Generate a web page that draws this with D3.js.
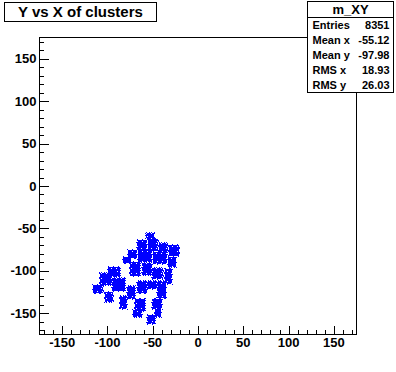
<!DOCTYPE html>
<html><head><meta charset="utf-8">
<script src="https://cdn.jsdelivr.net/npm/d3@7"></script>
<style>
body{margin:0;background:#fff}
svg{display:block}
text{font-family:"Liberation Sans",Arial,Helvetica,sans-serif;font-weight:bold;fill:#000}
</style>
</head><body>
<svg id="c" width="396" height="372"></svg>
<script>
// ---- data ----
const title = "Y vs X of clusters";
const histName = "m_XY";
const statLabels = ["Entries", "Mean x", "Mean y", "RMS x", "RMS y"];
const statValues = ["8351", "-55.12", "-97.98", "18.93", "26.03"];
const xDomain = [-175, 175];
const yDomain = [-175, 175];
const xTickValues = [-150, -100, -50, 0, 50, 100, 150];
const yTickValues = [-150, -100, -50, 0, 50, 100, 150];
// cluster occupancy regions (data units): x from/to, y from/to
const blobX0 = [-57.4,-67.4,-55.2,-43.1,-32.0,-77.3,-66.3,-49.7,-33.1,-82.8,-75.1,-61.8,-50.8,-36.4,-99.4,-108.2,-115.9,-95.0,-102.7,-78.4,-67.4,-56.3,-45.3,-86.1,-69.6,-50.8,-71.8,-56.3,-47.5];
const blobX1 = [-48.6,-56.3,-44.2,-33.1,-21.0,-67.4,-50.8,-34.2,-24.2,-74.0,-64.1,-50.8,-38.7,-28.7,-86.1,-95.0,-104.9,-80.6,-93.9,-69.6,-56.3,-45.3,-35.3,-78.4,-58.5,-39.8,-61.8,-47.5,-40.9];
const blobY0 = [-54.8,-63.1,-61.9,-66.6,-70.1,-76.0,-74.8,-77.2,-83.1,-83.1,-89.0,-91.3,-96.1,-97.3,-94.9,-103.1,-116.1,-109.0,-125.5,-117.3,-111.4,-111.4,-111.4,-129.1,-132.6,-132.6,-146.7,-151.5,-143.2];
const blobY1 = [-61.9,-74.8,-76.0,-78.4,-83.1,-85.5,-90.1,-91.3,-94.9,-90.1,-105.5,-105.5,-109.0,-114.9,-106.7,-117.3,-125.5,-124.3,-137.3,-132.6,-125.5,-120.8,-131.4,-144.4,-146.7,-144.4,-155.0,-162.1,-153.8];

// ---- layout ----
const svg = d3.select("#c");
const L = 39.5, R = 356.5, T = 37.5, B = 334.5;
const x = d3.scaleLinear().domain(xDomain).range([L, R]);
const y = d3.scaleLinear().domain(yDomain).range([B, T]);
const blue = "#0000ff";

// speckle patterns
const defs = svg.append("defs");
function pattern(id, rows) {
  const p = defs.append("pattern").attr("id", id).attr("patternUnits", "userSpaceOnUse")
    .attr("width", rows[0].length).attr("height", rows.length);
  rows.forEach((r, j) => r.split("").forEach((c, i) => {
    if (c === "X") p.append("rect").attr("x", i).attr("y", j).attr("width", 1).attr("height", 1).attr("fill", blue);
  }));
}
pattern("dense", ["XXXXX", "XX.XX", "XXXX.", "X.XXX", "XXXXX"]);
pattern("sparse", ["X..X.", "...X.", ".X..X", "X...X", "..X.."]);

// frame
svg.append("rect").attr("x", L).attr("y", T).attr("width", R - L).attr("height", B - T)
  .attr("fill", "#fff").attr("stroke", "#000").attr("stroke-width", 1);

// data
const blobs = blobX0.map((d, i) => ({x0: d, x1: blobX1[i], y0: blobY0[i], y1: blobY1[i]}));
const g = svg.append("g").attr("shape-rendering", "crispEdges");
g.selectAll("rect.halo").data(blobs).join("rect").attr("class", "halo")
  .attr("x", d => Math.round(x(d.x0)) - 1).attr("y", d => Math.round(y(d.y0)) - 1)
  .attr("width", d => Math.round(x(d.x1) - x(d.x0)) + 2).attr("height", d => Math.round(y(d.y1) - y(d.y0)) + 2)
  .attr("fill", "url(#sparse)");
g.selectAll("rect.body").data(blobs).join("rect").attr("class", "body")
  .attr("x", d => Math.round(x(d.x0))).attr("y", d => Math.round(y(d.y0)))
  .attr("width", d => Math.round(x(d.x1) - x(d.x0))).attr("height", d => Math.round(y(d.y1) - y(d.y0)))
  .attr("fill", "url(#dense)");
g.selectAll("rect.core").data(blobs).join("rect").attr("class", "core")
  .attr("x", d => Math.round(x(d.x0) + (x(d.x1) - x(d.x0)) * 0.2))
  .attr("y", d => Math.round(y(d.y0) + (y(d.y1) - y(d.y0)) * 0.2))
  .attr("width", d => Math.round((x(d.x1) - x(d.x0)) * 0.6))
  .attr("height", d => Math.round((y(d.y1) - y(d.y0)) * 0.6))
  .attr("fill", blue);

// axes (ticks inside frame)
const xMinor = d3.range(-170, 171, 10).filter(v => v % 50 !== 0);
const yMinor = d3.range(-170, 171, 10).filter(v => v % 50 !== 0);
const xAxis = d3.axisTop(x).tickValues(xTickValues).tickSize(9).tickFormat("");
const xAxisMinor = d3.axisTop(x).tickValues(xMinor).tickSize(4.5).tickFormat("");
const yAxis = d3.axisRight(y).tickValues(yTickValues).tickSize(9.5).tickFormat("");
const yAxisMinor = d3.axisRight(y).tickValues(yMinor).tickSize(4.75).tickFormat("");
[xAxis, xAxisMinor].forEach(a => {
  const ax = svg.append("g").attr("transform", `translate(0,${B})`).call(a);
  ax.select(".domain").remove();
  ax.selectAll("line").attr("stroke", "#000").attr("shape-rendering", "crispEdges");
});
[yAxis, yAxisMinor].forEach(a => {
  const ax = svg.append("g").attr("transform", `translate(${L},0)`).call(a);
  ax.select(".domain").remove();
  ax.selectAll("line").attr("stroke", "#000").attr("shape-rendering", "crispEdges");
});
// tick labels
svg.append("g").selectAll("text").data(xTickValues).join("text")
  .attr("x", d => x(d)).attr("y", 347).attr("text-anchor", "middle")
  .attr("font-size", 13).text(d => d);
svg.append("g").selectAll("text").data(yTickValues).join("text")
  .attr("x", 36.5).attr("y", d => y(d) + 4.6).attr("text-anchor", "end")
  .attr("font-size", 13).text(d => d);

// title box
svg.append("rect").attr("x", 4.5).attr("y", 2.5).attr("width", 152).attr("height", 19)
  .attr("fill", "#fff").attr("stroke", "#000");
svg.append("text").attr("x", 80.5).attr("y", 17).attr("text-anchor", "middle")
  .attr("font-size", 15).text(title);

// stats box
const sx0 = 307.5, sx1 = 393.5, sy0 = 1.5, sy1 = 92.5, sLine = 17.5;
svg.append("rect").attr("x", sx0).attr("y", sy0).attr("width", sx1 - sx0).attr("height", sy1 - sy0)
  .attr("fill", "#fff").attr("stroke", "#000");
svg.append("line").attr("x1", sx0).attr("x2", sx1).attr("y1", sLine).attr("y2", sLine).attr("stroke", "#000");
svg.append("text").attr("x", (sx0 + sx1) / 2).attr("y", 14).attr("text-anchor", "middle")
  .attr("font-size", 13).text(histName);
const rowY = d3.scaleLinear().domain([0, statLabels.length]).range([sLine, sy1]);
statLabels.forEach((lab, i) => {
  const cy = (rowY(i) + rowY(i + 1)) / 2 + 4;
  svg.append("text").attr("x", sx0 + 5).attr("y", cy).attr("font-size", 11).text(lab);
  svg.append("text").attr("x", sx1 - 4).attr("y", cy).attr("text-anchor", "end").attr("font-size", 11).text(statValues[i]);
});
</script>
</body></html>
